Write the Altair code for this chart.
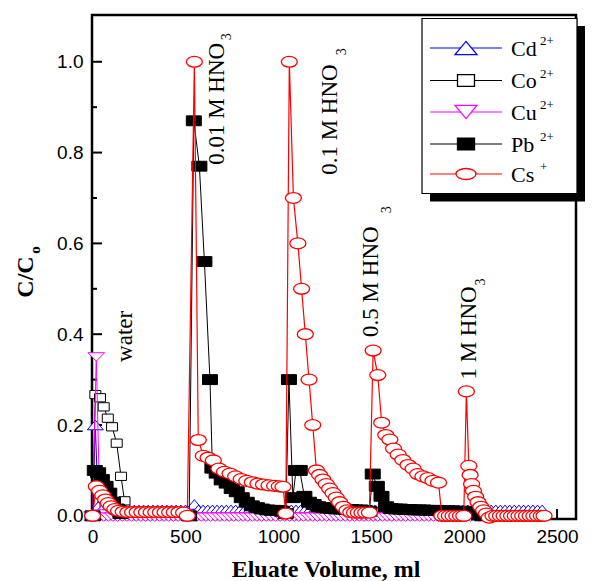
import altair as alt
import pandas as pd

# ---------------- data: eluate volume (ml) and C/Co ----------------
cd_vol = [0, 15, 30,
          50, 75, 100, 125, 150, 175, 200, 225, 250, 275, 300, 325, 350, 375, 400, 425, 450, 475, 500, 525,
          548,
          570, 595, 620, 645, 670, 695, 720, 745, 770, 795, 820, 845, 870, 895, 920,
          945, 970, 995, 1020, 1045, 1070, 1095, 1120, 1145, 1170, 1195, 1220, 1245, 1270, 1295,
          1320, 1345, 1370, 1395, 1420, 1445, 1470, 1495, 1520, 1545, 1570, 1595, 1620, 1645, 1670,
          1695, 1720, 1745, 1770, 1795, 1820, 1845, 1870, 1895, 1920, 1945, 1970, 1995, 2020, 2045,
          2070, 2095, 2120, 2145, 2170, 2195, 2220, 2245, 2270, 2295, 2320, 2345, 2370, 2395, 2420]
cd_c = [0.0, 0.2, 0.02,
        0.013, 0.013, 0.013, 0.013, 0.013, 0.013, 0.013, 0.013, 0.013, 0.013,
        0.013, 0.013, 0.013, 0.013, 0.013, 0.013, 0.013, 0.013, 0.013, 0.013,
        0.025,
        0.013, 0.013, 0.013, 0.013, 0.013, 0.013, 0.013, 0.013, 0.013, 0.013, 0.013, 0.013, 0.013, 0.013, 0.013,
        0.013, 0.013, 0.013, 0.013, 0.013, 0.013, 0.013, 0.013, 0.013, 0.013, 0.013, 0.013, 0.013, 0.013, 0.013,
        0.013, 0.013, 0.013, 0.013, 0.013, 0.013, 0.013, 0.013, 0.013, 0.013, 0.013, 0.013, 0.013, 0.013, 0.013,
        0.013, 0.013, 0.013, 0.013, 0.013, 0.013, 0.013, 0.013, 0.013, 0.013, 0.013, 0.013, 0.013, 0.013, 0.013,
        0.013, 0.013, 0.013, 0.013, 0.013, 0.013, 0.013, 0.013, 0.013, 0.013, 0.013, 0.013, 0.013, 0.013, 0.013]

co_vol = [0, 15, 40, 60, 82, 105, 130, 153, 172, 195]
co_c = [0.0, 0.267, 0.26, 0.24, 0.215, 0.196, 0.16, 0.087, 0.033, 0.004]

cu_vol = [0, 20, 40,
          60, 85, 110, 135, 160, 185, 210, 235, 260, 285, 310, 335, 360, 385, 410, 435, 460, 485, 510,
          535, 560, 585, 610, 635, 660, 685, 710, 735, 760, 785, 810, 835, 860, 885, 910, 935, 960, 985,
          1010, 1035, 1060, 1085, 1110, 1135, 1160, 1185, 1210, 1235, 1260, 1285, 1310, 1335, 1360, 1385, 1410, 1435, 1460,
          1485, 1510, 1535, 1560, 1585, 1610, 1635, 1660, 1685, 1710, 1735, 1760, 1785, 1810, 1835, 1860, 1885, 1910, 1935,
          1960, 1985, 2010, 2035, 2060, 2085, 2110, 2135, 2160, 2185, 2210, 2235, 2260, 2285, 2310, 2335, 2360, 2385, 2410]
cu_c = [0.0, 0.35, 0.004,
        -0.003, -0.003, -0.003, -0.003, -0.003, -0.003, -0.003, -0.003, -0.003, -0.003,
        -0.003, -0.003, -0.003, -0.003, -0.003, -0.003, -0.003, -0.003, -0.003,
        -0.003, -0.003, -0.003, -0.003, -0.003, -0.003, -0.003, -0.003, -0.003, -0.003,
        -0.003, -0.003, -0.003, -0.003, -0.003, -0.003, -0.003, -0.003, -0.003,
        -0.003, -0.003, -0.003, -0.003, -0.003, -0.003, -0.003, -0.003, -0.003, -0.003,
        -0.003, -0.003, -0.003, -0.003, -0.003, -0.003, -0.003, -0.003, -0.003,
        -0.003, -0.003, -0.003, -0.003, -0.003, -0.003, -0.003, -0.003, -0.003, -0.003,
        -0.003, -0.003, -0.003, -0.003, -0.003, -0.003, -0.003, -0.003, -0.003,
        -0.003, -0.003, -0.003, -0.003, -0.003, -0.003, -0.003, -0.003, -0.003, -0.003,
        -0.003, -0.003, -0.003, -0.003, -0.003, -0.003, -0.003, -0.003, -0.003]

pb_vol = [0, 12, 30, 50, 70, 90, 110, 130, 150,
          520, 545, 575, 602, 632,
          645, 668, 695, 722, 749, 776, 803, 830, 857, 885, 912, 940, 967, 995, 1020, 1040,
          1057, 1078, 1095, 1115, 1140,
          1165, 1190, 1215, 1240, 1265, 1290, 1315, 1340, 1365, 1390, 1415, 1440, 1465, 1490,
          1508, 1530, 1555,
          1580, 1605, 1630, 1655, 1680, 1705, 1730, 1755, 1780, 1805, 1830, 1855, 1880, 1905, 1930,
          1955, 1980, 2005, 2030, 2055, 2080,
          2100]
pb_c = [0.0, 0.10, 0.095, 0.08, 0.065, 0.05, 0.03, 0.015, 0.005,
        0.0, 0.87, 0.77, 0.56, 0.30,
        0.105, 0.094, 0.079, 0.072, 0.06, 0.053, 0.04, 0.03, 0.022, 0.018, 0.015, 0.013, 0.012, 0.012, 0.01, 0.005,
        0.30, 0.04, 0.10, 0.10, 0.043,
        0.03, 0.025, 0.02, 0.018, 0.017, 0.016, 0.015, 0.015, 0.014, 0.014, 0.013, 0.013, 0.012, 0.01,
        0.092, 0.065, 0.043,
        0.02, 0.016, 0.015, 0.015, 0.014, 0.014, 0.013, 0.013, 0.013, 0.012, 0.012, 0.012, 0.011, 0.011, 0.011,
        0.01, 0.01, 0.01, 0.008, 0.005, 0.002,
        0.0]

cs_vol = [0, 20, 38, 55, 70, 85, 100, 120, 140, 165, 190, 215, 240, 265, 290, 315, 340, 365, 390, 415, 440, 465, 490, 510,
          548, 569, 596, 622, 650, 680, 710, 740, 770, 800, 830, 860, 890, 920, 950, 980, 1005, 1025, 1040,
          1059, 1081, 1105, 1125, 1145, 1165, 1185, 1205, 1222, 1240, 1258, 1276, 1294, 1312, 1330, 1350, 1370, 1390,
          1410, 1430, 1450, 1470, 1490,
          1510, 1535, 1556, 1578, 1600, 1620, 1645, 1670, 1698, 1725, 1750, 1778, 1805, 1832, 1862,
          1880, 1900, 1920, 1940, 1960, 1980, 1998,
          2012, 2025, 2032, 2040, 2050, 2062, 2075, 2090, 2105, 2120, 2135,
          2155, 2175, 2195, 2215, 2235, 2255, 2275, 2295, 2315, 2335, 2355, 2375, 2395, 2415, 2430]
cs_c = [0.0, 0.065, 0.055, 0.045, 0.036, 0.028, 0.021, 0.015, 0.011, 0.009, 0.008, 0.008, 0.008, 0.008, 0.008,
        0.008, 0.008, 0.008, 0.008, 0.008, 0.008, 0.008, 0.007, 0.0,
        1.0, 0.167, 0.132, 0.128, 0.122, 0.104, 0.097, 0.093, 0.087, 0.081, 0.077, 0.074, 0.071, 0.069, 0.067,
        0.066, 0.065, 0.064, 0.005,
        1.0, 0.70, 0.60, 0.50, 0.40, 0.30, 0.20, 0.10, 0.09, 0.08, 0.07, 0.06, 0.05, 0.04, 0.03, 0.02, 0.012, 0.008,
        0.007, 0.007, 0.007, 0.007, 0.007,
        0.364, 0.31, 0.205, 0.178, 0.168, 0.148, 0.135, 0.123, 0.112, 0.104, 0.092, 0.087, 0.083, 0.077, 0.073,
        0.0, 0.0, 0.0, 0.0, 0.0, 0.0, 0.0,
        0.274, 0.11, 0.09, 0.07, 0.055, 0.042, 0.03, 0.02, 0.012, 0.005, -0.004,
        0.0, 0.0, 0.0, 0.0, 0.0, 0.0, 0.0, 0.0, 0.0, 0.0, 0.0, 0.0, 0.0, 0.0, 0.0]

x_ticks = [0, 500, 1000, 1500, 2000, 2500]
x_minor = [250, 750, 1250, 1750, 2250]
y_ticks = [0.0, 0.2, 0.4, 0.6, 0.8, 1.0]
y_minor = [0.1, 0.3, 0.5, 0.7, 0.9]

# eluent annotations (rotated), placed in data units
note_text = ["water", "0.01 M HNO", "0.1 M HNO", "0.5 M HNO", "1 M HNO"]
note_vol = [175, 670, 1278, 1499, 2026]
note_c = [0.339, 0.773, 0.751, 0.394, 0.300]
sub_vol = [724, 1343, 1585, 2093]
sub_c = [1.055, 1.022, 0.674, 0.515]

# ---------------- styling ----------------
W, H = 484, 504
SERIF = "Liberation Serif"
SANS = "Liberation Sans"

TRI_UP = "M0,-0.6 L1,0.6 L-1,0.6 Z"
TRI_DOWN = "M-1,-0.5 L1,-0.5 L0,0.5 Z"
RECT_CO = "M-1,-0.75 L1,-0.75 L1,0.75 L-1,0.75 Z"
RECT_PB = "M-1,-0.66 L1,-0.66 L1,0.66 L-1,0.66 Z"
ELLIPSE = "M-1,0 A1,0.68 0 1,1 1,0 A1,0.68 0 1,1 -1,0 Z"

LEG_TRI_UP = "M0,-0.6 L1,0.6 L-1,0.6 Z"
LEG_TRI_DOWN = "M-1,-0.6 L1,-0.6 L0,0.6 Z"
LEG_RECT = "M-1,-0.7 L1,-0.7 L1,0.7 L-1,0.7 Z"
LEG_ELLIPSE = "M-1,0 A1,0.55 0 1,1 1,0 A1,0.55 0 1,1 -1,0 Z"

x_scale = alt.Scale(domain=[-3, 2602], nice=False, zero=False)
y_scale = alt.Scale(domain=[-0.007, 1.103], nice=False, zero=False)

x_axis = alt.Axis(values=x_ticks, format="d", title=None, grid=False, domain=False,
                  ticks=False, tickSize=0, labelFont=SANS, labelFontSize=19,
                  labelColor="black", labelPadding=8, labelFlush=False, labelOverlap=False)
y_axis = alt.Axis(values=y_ticks, format=".1f", title=None, grid=False, domain=False,
                  ticks=False, tickSize=0, labelFont=SANS, labelFontSize=19,
                  labelColor="black", labelPadding=9, labelFlush=False, labelOverlap=False)


def X(field):
    return alt.X(field, type="quantitative", scale=x_scale, axis=x_axis)


def Y(field):
    return alt.Y(field, type="quantitative", scale=y_scale, axis=y_axis)


def series(vol, c, color, path, size, fill, sw=1.0, lw=1.0):
    df = pd.DataFrame({"vol": vol, "c": c})
    base = alt.Chart(df)
    line = base.mark_line(color=color, strokeWidth=lw).encode(x=X("vol"), y=Y("c"))
    pts = base.mark_point(shape=path, size=size, filled=True, fill=fill, stroke=color,
                          strokeWidth=sw, opacity=1, fillOpacity=1,
                          strokeOpacity=1).encode(x=X("vol"), y=Y("c"))
    return [line, pts]


layers = []

# inward tick marks on the left and bottom frame
layers.append(alt.Chart(pd.DataFrame({"t": y_ticks})).mark_rule(color="black", strokeWidth=2)
              .encode(y=Y("t"), x=alt.value(0), x2=alt.value(10)))
layers.append(alt.Chart(pd.DataFrame({"t": y_minor})).mark_rule(color="black", strokeWidth=2)
              .encode(y=Y("t"), x=alt.value(0), x2=alt.value(5)))
layers.append(alt.Chart(pd.DataFrame({"t": x_ticks})).mark_rule(color="black", strokeWidth=2)
              .encode(x=X("t"), y=alt.value(H), y2=alt.value(H - 10)))
layers.append(alt.Chart(pd.DataFrame({"t": x_minor})).mark_rule(color="black", strokeWidth=2)
              .encode(x=X("t"), y=alt.value(H), y2=alt.value(H - 5)))

# data series, drawn in legend order
layers += series(cd_vol, cd_c, "#0000ff", TRI_UP, 256, "white")
layers += series(co_vol, co_c, "#000000", RECT_CO, 121, "white")
layers += series(cu_vol, cu_c, "#ff00ff", TRI_DOWN, 279, "white")
layers += series(pb_vol, pb_c, "#000000", RECT_PB, 225, "#000000")
layers += series(cs_vol, cs_c, "#ff0000", ELLIPSE, 256, "white", sw=1.3, lw=1.2)

# annotations
notes = pd.DataFrame({"vol": note_vol, "c": note_c, "label": note_text})
layers.append(alt.Chart(notes).mark_text(angle=270, align="left", baseline="middle", font=SERIF,
                                         fontSize=23, color="black")
              .encode(x=X("vol"), y=Y("c"), text="label:N"))
subs = pd.DataFrame({"vol": sub_vol, "c": sub_c, "label": ["3", "3", "3", "3"]})
layers.append(alt.Chart(subs).mark_text(angle=270, align="center", baseline="middle", font=SERIF,
                                        fontSize=14, color="black")
              .encode(x=X("vol"), y=Y("c"), text="label:N"))

one = pd.DataFrame({"k": [0]})

# legend: shadow, box, entries
layers.append(alt.Chart(one).mark_rect(color="black")
              .encode(x=alt.value(338), x2=alt.value(493), y=alt.value(11), y2=alt.value(186.5)))
layers.append(alt.Chart(one).mark_rect(fill="white", stroke="black", strokeWidth=1.2)
              .encode(x=alt.value(330), x2=alt.value(485), y=alt.value(3.5), y2=alt.value(178.5)))

legend_rows = [
    ("Cd", "2+", "#0000ff", LEG_TRI_UP, 484, "white"),
    ("Co", "2+", "#000000", LEG_RECT, 289, "white"),
    ("Cu", "2+", "#ff00ff", LEG_TRI_DOWN, 484, "white"),
    ("Pb", "2+", "#000000", LEG_RECT, 289, "#000000"),
    ("Cs", "+", "#ff0000", LEG_ELLIPSE, 400, "white"),
]
row_y = [33, 65.5, 97, 129, 159]
for (name, charge, color, path, size, fill), ry in zip(legend_rows, row_y):
    layers.append(alt.Chart(one).mark_rule(color=color, strokeWidth=1.2)
                  .encode(x=alt.value(338), x2=alt.value(410), y=alt.value(ry)))
    layers.append(alt.Chart(one).mark_point(shape=path, size=size, filled=True, fill=fill, stroke=color,
                                            strokeWidth=1.3, opacity=1)
                  .encode(x=alt.value(374), y=alt.value(ry)))
    layers.append(alt.Chart(one).mark_text(text=name, align="left", baseline="alphabetic", font=SERIF,
                                           fontSize=22, color="black")
                  .encode(x=alt.value(419), y=alt.value(ry + 7.5)))
    layers.append(alt.Chart(one).mark_text(text=charge, align="left", baseline="alphabetic", font=SERIF,
                                           fontSize=13, color="black")
                  .encode(x=alt.value(448), y=alt.value(ry - 3)))

# axis titles
layers.append(alt.Chart(one).mark_text(text="Eluate Volume, ml", align="center", baseline="middle",
                                       font=SERIF, fontWeight="bold", fontSize=24, color="black")
              .encode(x=alt.value(234), y=alt.value(555)))
layers.append(alt.Chart(one).mark_text(text="C/C", angle=270, align="center", baseline="middle",
                                       font=SERIF, fontWeight="bold", fontSize=24, color="black")
              .encode(x=alt.value(-66), y=alt.value(262)))
layers.append(alt.Chart(one).mark_text(text="o", angle=270, align="center", baseline="middle",
                                       font=SERIF, fontWeight="bold", fontSize=15, color="black")
              .encode(x=alt.value(-57), y=alt.value(235)))

chart = alt.layer(*layers).properties(
    width=W, height=H,
    padding={"left": 92, "top": 15, "right": 21, "bottom": 62},
    autosize=alt.AutoSizeParams(type="none"),
).configure_view(stroke="black", strokeWidth=2.5)

chart.save("out.html", embed_options={"renderer": "svg", "actions": False})
